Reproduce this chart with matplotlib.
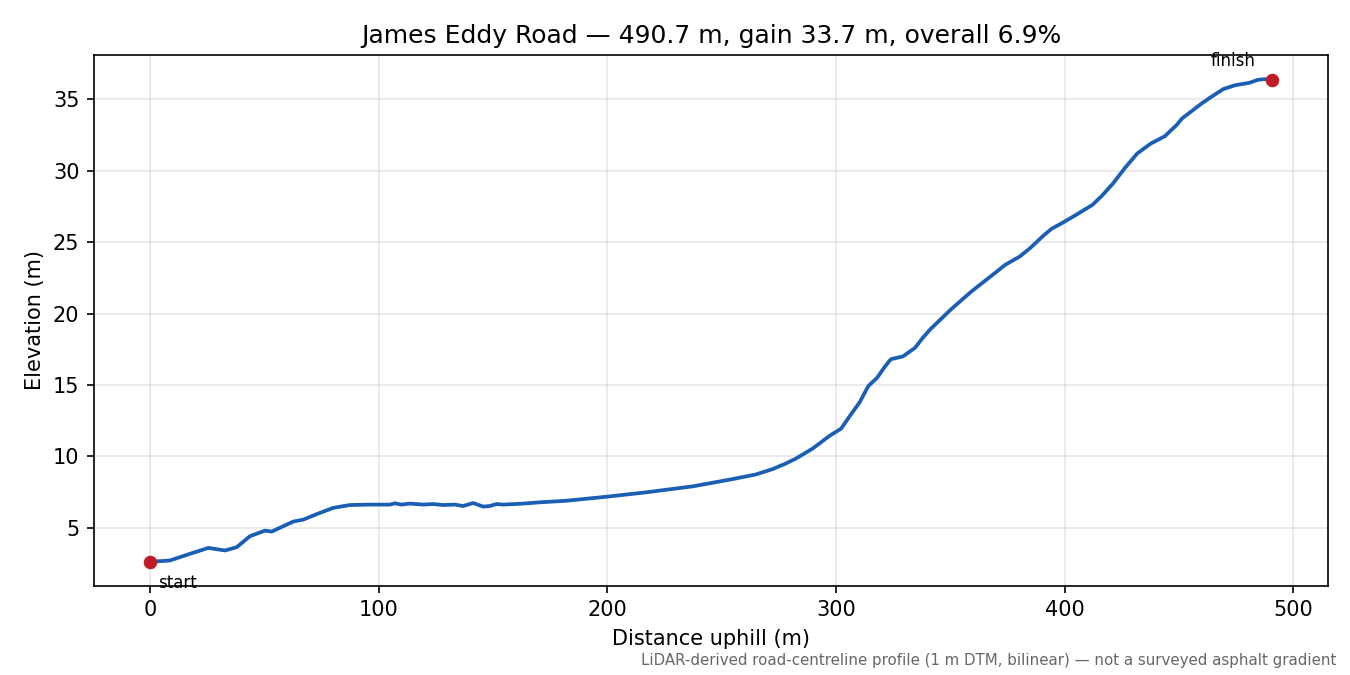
import matplotlib
matplotlib.use("Agg")
import matplotlib.pyplot as plt

# profile
dist = [0, 8.7, 17.5, 25.5, 32.8, 37.9, 43.7, 50.3, 53.2, 62.6, 67, 74.3, 80.1, 87.4,
        96.2, 104.9, 107.1, 110, 113.6, 119.5, 123.8, 128.2, 133.3, 136.9, 141.3,
        145.7, 148.6, 151.5, 154.4, 163.2, 170.5, 182.1, 199.6, 217.1, 237.5, 255,
        265, 272.4, 278, 282.6, 289.9, 297.2, 302.3, 305.9, 310.3, 314.2, 318.0, 321.5,
        324.0, 329.3, 334.6, 338, 341.3, 350.4, 359.4, 368.5, 374, 380.5, 385.1, 391.1,
        394.5, 398.6, 405, 412.2, 416.7, 421.2, 426.5, 431.8, 437.8, 443.8, 449.1, 451.4,
        455.9, 460, 464.2, 469.4, 474.7, 480.8, 484.5, 487.5, 490.7]
elev = [2.63, 2.72, 3.19, 3.6, 3.42, 3.65, 4.42, 4.81, 4.74, 5.44, 5.58, 6.05, 6.4, 6.6,
        6.63, 6.63, 6.72, 6.63, 6.7, 6.63, 6.67, 6.6, 6.63, 6.53, 6.74,
        6.49, 6.53, 6.67, 6.63, 6.7, 6.79, 6.9, 7.18, 7.49, 7.91, 8.42,
        8.74, 9.12, 9.5, 9.86, 10.56, 11.44, 11.95, 12.79, 13.77, 14.93, 15.5, 16.3,
        16.8, 17.0, 17.6, 18.3, 18.9, 20.3, 21.56, 22.7, 23.4, 24.0, 24.6, 25.5,
        25.95, 26.3, 26.9, 27.6, 28.3, 29.1, 30.2, 31.2, 31.9, 32.4, 33.2, 33.65,
        34.2, 34.7, 35.16, 35.7, 35.98, 36.14, 36.35, 36.4, 36.33]

fig, ax = plt.subplots(figsize=(9, 4.5), dpi=150)
fig.subplots_adjust(left=0.0696, right=0.9837, top=0.9185, bottom=0.132)

ax.plot(dist, elev, color="#1a5fb4", lw=1.8)
ax.plot([dist[0], dist[-1]], [elev[0], elev[-1]], "o", color="#c01c28", ms=5.5)
ax.annotate("start", (dist[0], elev[0]), xytext=(4, -6), textcoords="offset points",
            ha="left", va="top", fontsize=8)
ax.annotate("finish", (dist[-1], elev[-1]), xytext=(-8, 5), textcoords="offset points",
            ha="right", va="bottom", fontsize=8)

ax.grid(True, alpha=0.3)
ax.set_xlabel("Distance uphill (m)")
ax.set_ylabel("Elevation (m)")
ax.set_title("James Eddy Road \u2014 490.7 m, gain 33.7 m, overall 6.9%")

fig.text(0.99, 0.01, "LiDAR-derived road-centreline profile (1 m DTM, bilinear) \u2014 not a surveyed asphalt gradient",
         ha="right", va="bottom", fontsize=7.2, color="#666666")

fig.savefig("out.png")
